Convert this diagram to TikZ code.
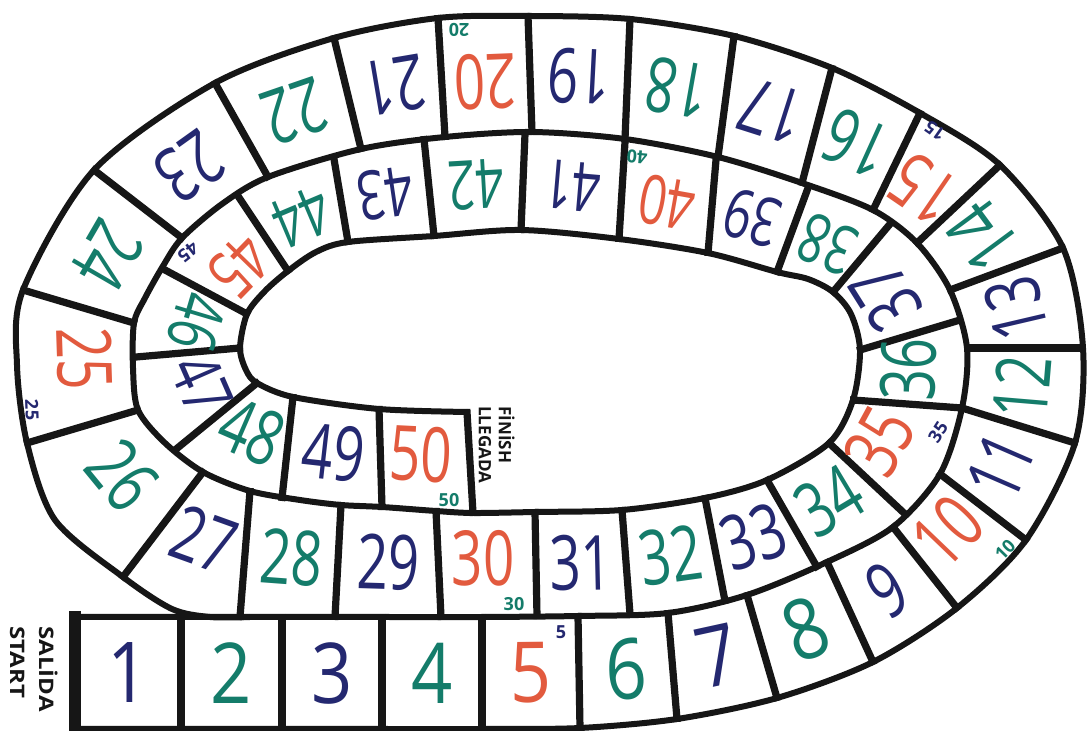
\documentclass[tikz,border=0pt]{standalone}
\usepackage{fontspec}
\setmainfont{Open Sans}
\usetikzlibrary{calc}
\definecolor{ink}{RGB}{22,22,22}
\definecolor{cb}{RGB}{36,40,112}
\definecolor{cg}{RGB}{20,124,106}
\definecolor{cr}{RGB}{226,90,62}
\newcommand\placenum[7]{%
  \coordinate (m1) at ($(#3-i)!.5!(#3-o)$);
  \coordinate (m2) at ($(#4-i)!.5!(#4-o)$);
  \coordinate (c#2) at ($(m1)!.5!(m2)$);
  \pgfmathanglebetweenpoints{\pgfpointanchor{m1}{center}}{\pgfpointanchor{m2}{center}}%
  \let\numang\pgfmathresult
  \node[rotate=\numang, #1, text=#5] (n#2) at ($(c#2)+(#6,#7)$) {#2};}
\begin{document}
\begin{tikzpicture}[x=0.5pt,y=-0.5pt,
  spiral/.style={draw=ink,line width=3pt,line join=round},
  divider/.style={draw=ink,line width=3.6pt,shorten <=-1.5pt,shorten >=-1.5pt},
  numA/.style={inner sep=0pt,font=\fontsize{42}{42}\selectfont,xscale=0.86},
  numB/.style={inner sep=0pt,font=\fontsize{38}{38}\selectfont,xscale=0.72},
  numC/.style={inner sep=0pt,font=\fontsize{34}{34}\selectfont,xscale=0.72},
  tiny/.style={inner sep=0pt,font=\bfseries\fontsize{9}{9}\selectfont},
  sign/.style={inner sep=0pt,align=left,text=ink}]
\fill[white] (0,0) rectangle (1088,731);
\useasboundingbox (0,0) rectangle (1088,731);

% dividers of the outer track (inner end / outer end)
\foreach \k/\ix/\iy/\ox/\oy in {
 0/75/617/75/729, 1/181/617/181/729, 2/282/617/282/729, 3/382/617/382/729,
 4/482/617/482/729, 5/578/616/580/728, 6/668/613/677/719, 7/747/595/777/698,
 8/827/562/873/662, 9/893/527/957/608, 10/940/474/1026/540, 11/962/408/1075/443,
 12/967/348/1083/348, 13/950/290/1063/248, 14/917/243/1000/165, 15/873/210/920/113,
 16/802/183/832/68, 17/718/157/734/36, 18/625/139/630/19, 19/532/132/528/16,
 20/445/137/438/18, 21/361/149/334/38, 22/268/177/215/83, 23/182/238/94/170,
 24/134/323/23/290, 25/138/410/27/443, 26/203/472/123/577}
 {\coordinate (d\k-i) at (\ix,\iy); \coordinate (d\k-o) at (\ox,\oy);}
% dividers of the inner track
\foreach \k/\ix/\iy/\ox/\oy in {
 27/250/491/240/617, 28/341/505/335/617, 29/436/511/441/617, 30/535/512/537/616,
 31/622/510/630/614, 32/705/498/725/601, 33/767/480/817/567, 34/829/443/905/514,
 35/853/400/962/408, 36/860/350/960/320, 37/833/292/890/224, 38/777/272/808/188,
 39/708/253/716/160, 40/619/239/625/142, 41/521/230/525/134, 42/434/236/424/139,
 43/348/242/334/159, 44/288/271/238/196, 45/247/314/165/270, 46/240/348/136/357,
 47/257/383/175/450, 48/293/397/282/498, 49/379/409/382/507, 50/467/412/473/513}
 {\coordinate (e\k-i) at (\ix,\iy); \coordinate (e\k-o) at (\ox,\oy);}

\foreach \k in {1,...,26} \draw[divider] (d\k-i) -- (d\k-o);
\foreach \k in {27,...,50} \draw[divider] (e\k-i) -- (e\k-o);
\draw[draw=ink,line width=6pt] (75,611) -- (75,733);

% outer edge of the spiral
\draw[spiral] plot[smooth,tension=0.5] coordinates {
 (75,729) (181,729) (282,729) (382,729) (482,729) (580,728) (677,719) (777,698)
 (873,662) (957,608) (1026,540) (1075,443) (1083,348) (1063,248) (1000,165)
 (920,113) (832,68) (734,36) (630,19) (528,16) (438,18) (334,38) (215,83)
 (94,170) (23,290) (17,365) (27,443) (55,520) (123,577) (172,609) (210,617) (250,617)};
% second and third turn of the spiral
\draw[spiral] plot[smooth,tension=0.5] coordinates {
 (75,617) (181,617) (282,617) (382,617) (482,617) (578,616) (668,613) (747,595)
 (827,562) (893,527) (940,474) (962,408) (967,348) (950,290) (917,243) (873,210)
 (802,183) (718,157) (625,139) (532,132) (445,137) (361,149) (268,177) (222,204)
 (182,238) (163,266) (145,298) (134,323) (133,368) (138,410) (165,443) (203,472)
 (250,491) (300,500) (341,505) (382,507) (436,511) (473,513) (535,512) (622,510)
 (705,498) (767,480) (829,443) (853,400) (860,350) (851,314) (833,292) (808,279)
 (777,272) (708,253) (619,239) (521,230) (434,236) (348,242) (316,252) (288,271)
 (265,291) (247,314) (240,348) (246,370) (257,383) (293,397) (379,409) (467,412)};

% numbers
\foreach \k/\a/\b/\c in {1/d0/d1/cb, 2/d1/d2/cg, 3/d2/d3/cb, 4/d3/d4/cg,
  5/d4/d5/cr, 6/d5/d6/cg, 7/d6/d7/cb, 8/d7/d8/cg}
  {\placenum{numA}{\k}{\a}{\b}{\c}{0}{0}}
\foreach \k/\a/\b/\c in {9/d8/d9/cb, 11/d10/d11/cb, 12/d11/d12/cg,
  13/d12/d13/cb, 14/d13/d14/cg, 16/d15/d16/cg, 17/d16/d17/cb,
  18/d17/d18/cg, 19/d18/d19/cb, 21/d20/d21/cb, 22/d21/d22/cg,
  23/d22/d23/cb, 24/d23/d24/cg, 26/d25/d26/cg, 27/d26/e27/cb,
  28/e27/e28/cg, 29/e28/e29/cb, 31/e30/e31/cb, 32/e31/e32/cg,
  33/e32/e33/cb, 34/e33/e34/cg, 36/e35/e36/cg, 37/e36/e37/cb,
  48/e47/e48/cg, 49/e48/e49/cb}
  {\placenum{numB}{\k}{\a}{\b}{\c}{0}{0}}
\placenum{numB}{10}{d9}{d10}{cr}{-6}{-6}
\placenum{numB}{15}{d14}{d15}{cr}{-4}{6}
\placenum{numB}{20}{d19}{d20}{cr}{0}{6}
\placenum{numB}{25}{d24}{d25}{cr}{4}{-8}
\placenum{numB}{30}{e29}{e30}{cr}{-4}{-6}
\placenum{numB}{35}{e34}{e35}{cr}{-8}{0}
\placenum{numB}{50}{e49}{e50}{cr}{-4}{-6}
\foreach \k/\a/\b/\c in {38/e37/e38/cg, 39/e38/e39/cb,
  41/e40/e41/cb, 42/e41/e42/cg, 43/e42/e43/cb, 44/e43/e44/cg,
  46/e45/e46/cg, 47/e46/e47/cb}
  {\placenum{numC}{\k}{\a}{\b}{\c}{0}{0}}
\placenum{numC}{40}{e39}{e40}{cr}{0}{4}
\placenum{numC}{45}{e44}{e45}{cr}{5}{4}

% small marks
\node[tiny,text=cb] (s5) at (561,632) {5};
\node[tiny,text=cg,rotate=46] (s10) at (1005,550) {10};
\node[tiny,text=cb,rotate=145] (s15) at (935,131) {15};
\node[tiny,text=cg,rotate=180] (s20) at (459,30) {20};
\node[tiny,text=cb,rotate=-88] (s25) at (32,410) {25};
\node[tiny,text=cg] (s30) at (514,604) {30};
\node[tiny,text=cb,rotate=57] (s35) at (938,432) {35};
\node[tiny,text=cg,rotate=175] (s40) at (637,157) {40};
\node[tiny,text=cb,rotate=218] (s45) at (188,252) {45};
\node[tiny,text=cg] (s50) at (449,500) {50};

% start and finish
\node[sign,rotate=-90,xscale=1.2,anchor=north west,
  font=\bfseries\fontsize{10}{14.5}\selectfont] (salida) at (58,626) {SALİDA\\START};
\node[sign,rotate=-90,anchor=north west,
  font=\bfseries\fontsize{8.5}{10}\selectfont] (finish) at (515,406) {FİNİSH\\LLEGADA};
\end{tikzpicture}
\end{document}
